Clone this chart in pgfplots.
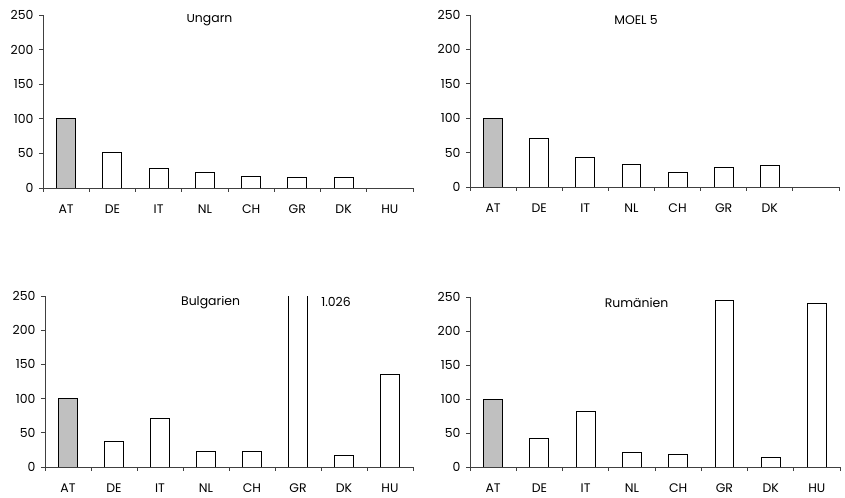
\documentclass[border=0pt]{standalone}
\usepackage{fontspec}
\setmainfont{Poppins}
\usepackage{pgfplots}
\pgfplotsset{compat=1.18}
\definecolor{atgray}{HTML}{C0C0C0}
\definecolor{axgray}{HTML}{404040}
\newcommand{\lblfont}{\fontsize{12.5}{14}\selectfont}
\pgfplotsset{
  panel/.style={
    scale only axis,
    xmin=0, xmax=8, ymin=0, ymax=250,
    axis x line=bottom, axis y line=left,
    axis line style={-, line width=0.8bp, axgray},
    xtick={0,...,8}, x tick label as interval,
    ytick={0,50,...,250},
    tick align=outside, major tick length=4bp,
    tick style={axgray, line width=0.8bp},
    every tick label/.append style={font=\lblfont, text=black},
    /pgf/number format/assume math mode=true,
    xticklabels={AT,DE,IT,NL,CH,GR,DK,HU},
    x tick label style={yshift=-9bp},
    y tick label style={xshift=-2bp},
    anchor=south west,
  },
  atbar/.style={ybar, bar width=0.41, bar shift=0pt, fill=atgray, draw=black, line width=0.8bp},
  obar/.style={ybar, bar width=0.41, bar shift=0pt, fill=white, draw=black, line width=0.8bp},
}
\begin{document}
\begin{tikzpicture}
\useasboundingbox (0,0) rectangle (845bp,498bp);
% Ungarn
\begin{axis}[panel, at={(43bp,310bp)}, width=370bp, height=173bp]
\addplot[atbar] coordinates {(0.5,100)};
\addplot[obar] coordinates {(1.5,51.4) (2.5,28.4) (3.5,23) (4.5,17.3) (5.5,15.9) (6.5,15.9)};
\node[font=\lblfont] at (axis cs:3.6,243) {Ungarn};
\end{axis}
% MOEL 5
\begin{axis}[panel, at={(470bp,311bp)}, width=369bp, height=172bp,
  xticklabels={AT,DE,IT,NL,CH,GR,DK,{}}]
\addplot[atbar] coordinates {(0.5,100)};
\addplot[obar] coordinates {(1.5,71) (2.5,43.5) (3.5,33.4) (4.5,21.8) (5.5,29) (6.5,31.9)};
\node[font=\lblfont] at (axis cs:3.6,243) {MOEL 5};
\end{axis}
% Bulgarien
\begin{axis}[panel, at={(45bp,31bp)}, width=368bp, height=171bp]
\addplot[atbar] coordinates {(0.5,100)};
\addplot[obar] coordinates {(1.5,38) (2.5,71.5) (3.5,22.9) (4.5,22.9) (5.5,1026) (6.5,17) (7.5,135.7)};
\node[font=\lblfont] at (axis cs:3.6,241) {Bulgarien};
\node[font=\lblfont, anchor=west] at (axis cs:5.93,241) {1.026};
\end{axis}
% Rumänien
\begin{axis}[panel, at={(470bp,31bp)}, width=370bp, height=170bp]
\addplot[atbar] coordinates {(0.5,100)};
\addplot[obar] coordinates {(1.5,42.5) (2.5,82) (3.5,22) (4.5,19) (5.5,244.6) (6.5,14.2) (7.5,241.2)};
\node[font=\lblfont] at (axis cs:3.6,241) {Rumänien};
\end{axis}
\end{tikzpicture}
\end{document}
